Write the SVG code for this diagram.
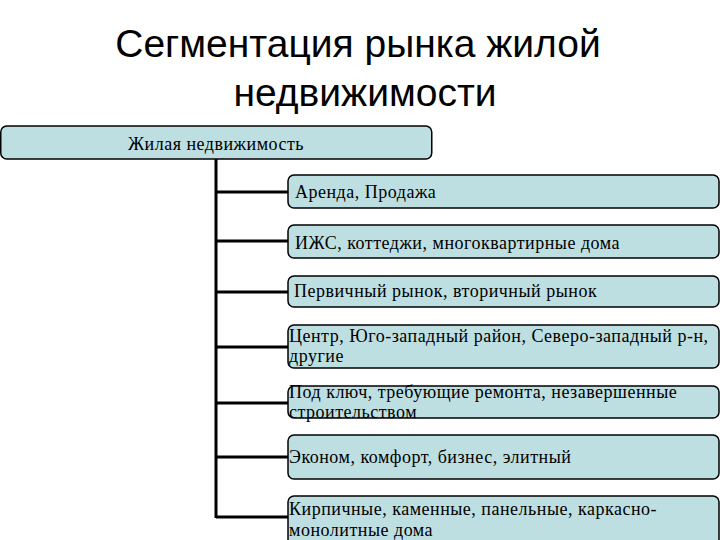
<svg xmlns="http://www.w3.org/2000/svg" width="720" height="540" viewBox="0 0 720 540">
<style>
.title{font-family:"Liberation Sans",Arial,sans-serif;font-size:39px;fill:#000;text-anchor:middle}
.box{fill:#BEDFE2;stroke:#000;stroke-width:1.5}
.t{font-family:"Liberation Serif","Times New Roman",serif;font-size:18px;letter-spacing:0.5px;fill:#000}
.c{stroke:#000;stroke-width:3;fill:none}
</style>
<rect width="720" height="540" fill="#fff"/>
<g id="title">
<text class="title" x="358" y="57">Сегментация рынка жилой</text>
<text class="title" x="365" y="106">недвижимости</text>
</g>
<g id="connectors">
<line class="c" x1="216" y1="159" x2="216" y2="518"/>
<line class="c" x1="216" y1="192" x2="289" y2="192"/>
<line class="c" x1="216" y1="241" x2="289" y2="241"/>
<line class="c" x1="216" y1="292" x2="289" y2="292"/>
<line class="c" x1="216" y1="347" x2="289" y2="347"/>
<line class="c" x1="216" y1="403" x2="289" y2="403"/>
<line class="c" x1="216" y1="457" x2="289" y2="457"/>
<line class="c" x1="216" y1="517" x2="289" y2="517"/>
</g>
<g id="root">
<rect class="box" x="0.75" y="126" width="431" height="33" rx="6"/>
<text class="t" x="216" y="150" text-anchor="middle">Жилая недвижимость</text>
</g>
<g id="n1">
<rect class="box" x="288" y="175" width="431" height="33" rx="6"/>
<text class="t" x="295" y="198">Аренда, Продажа</text>
</g>
<g id="n2">
<rect class="box" x="288" y="225" width="431" height="33" rx="6"/>
<text class="t" x="295" y="249">ИЖС, коттеджи, многоквартирные дома</text>
</g>
<g id="n3">
<rect class="box" x="288" y="276" width="431" height="31" rx="6"/>
<text class="t" x="294" y="297">Первичный рынок, вторичный рынок</text>
</g>
<g id="n4">
<rect class="box" x="288" y="325" width="431" height="43" rx="6"/>
<text class="t" x="289" y="342">Центр, Юго-западный район, Северо-западный р-н,</text>
<text class="t" x="289" y="362">другие</text>
</g>
<g id="n5">
<rect class="box" x="288" y="386" width="431" height="32" rx="6"/>
<text class="t" x="289" y="398">Под ключ, требующие ремонта, незавершенные</text>
<text class="t" x="289" y="418">строительством</text>
</g>
<g id="n6">
<rect class="box" x="288" y="435" width="431" height="44" rx="6"/>
<text class="t" x="289" y="463">Эконом, комфорт, бизнес, элитный</text>
</g>
<g id="n7">
<rect class="box" x="288" y="496" width="431" height="50" rx="6"/>
<text class="t" x="289" y="515">Кирпичные, каменные, панельные, каркасно-</text>
<text class="t" x="289" y="536">монолитные дома</text>
</g>
</svg>
